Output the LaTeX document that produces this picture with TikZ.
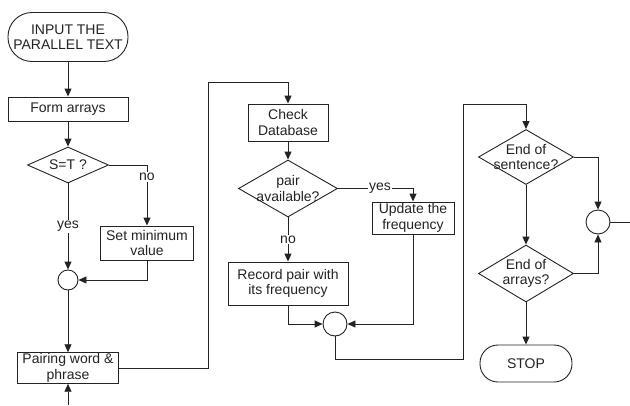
\documentclass[tikz,border=0pt]{standalone}
\usepackage{fontspec}
\setmainfont{Liberation Sans}
\usepackage{tikz}
\usetikzlibrary{positioning,arrows.meta,shapes.geometric}
\definecolor{linecol}{RGB}{35,35,35}

\begin{document}
\begin{tikzpicture}[x=1pt,y=-1pt,
  every node/.style={font=\fontsize{14}{15.5}\selectfont,text=linecol},
  pbox/.style={rectangle,draw=linecol,line width=0.9pt,align=center,inner sep=1pt},
  term/.style={rectangle,draw=linecol,line width=0.9pt,align=center,inner sep=0pt},
  dec/.style={diamond,draw=linecol,line width=0.9pt,inner sep=0pt},
  joint/.style={circle,draw=linecol,line width=0.9pt,inner sep=0pt},
  lbl/.style={fill=white,inner sep=1pt},
  arr/.style={-{Triangle[length=8pt,width=7pt]},line width=0.9pt,linecol},
  ln/.style={line width=0.9pt,linecol}
]
\useasboundingbox (0,0) rectangle (630,405);
\node[term,rounded corners=24pt,minimum width=120pt,minimum height=49pt] (start) at (68,37)
  {INPUT THE\\PARALLEL TEXT};
\node[pbox,minimum width=120pt,minimum height=24pt] (form) at (68,109) {Form arrays};
\node[dec,minimum width=81pt,minimum height=36pt,label={center:S=T ?}] (st) at (68,165) {};
\node[pbox,minimum width=93pt,minimum height=34pt] (setmin) at (147,243)
  {Set minimum\\value};
\node[joint,minimum size=20pt] (c1) at (68,280) {};
\node[pbox,minimum width=101pt,minimum height=30pt] (pair) at (68,368)
  {Pairing word \&\\phrase};
\coordinate (inbot) at (68,405);
\coordinate (loopA) at (208,82);
\node[pbox,minimum width=80pt,minimum height=37pt] (check) at (288,122.5)
  {Check\\Database};
\node[dec,minimum width=99pt,minimum height=57pt,
  label={[align=center]center:{pair\\available?}}] (pa) at (288,188.5) {};
\node[pbox,minimum width=82pt,minimum height=32pt] (update) at (413,218)
  {Update the\\frequency};
\node[pbox,minimum width=120pt,minimum height=43pt] (record) at (288,283.5)
  {Record pair with\\its frequency};
\node[joint,minimum size=24pt] (c2) at (335,324) {};
\coordinate (loopB) at (463,104);
\node[dec,minimum width=95pt,minimum height=55pt,
  label={[align=center]center:{End of\\sentence?}}] (es) at (526,157) {};
\node[dec,minimum width=95pt,minimum height=57pt,
  label={[align=center]center:{End of\\arrays?}}] (ea) at (526,273.5) {};
\node[joint,minimum size=24pt] (c3) at (598,222) {};
\coordinate (outr) at (630,222);
\node[term,rounded corners=18pt,minimum width=92pt,minimum height=37pt] (stop) at (526,363.5)
  {STOP};
\draw[arr] (start) -- (form);
\draw[arr] (form) -- (st);
\draw[arr] (st.east) -| node[lbl,pos=0.6] {no} (setmin.north);
\draw[arr] (st.south) -- node[lbl,pos=0.5] {yes} (c1.north);
\draw[arr] (setmin.south) |- (c1.east);
\draw[arr] (c1) -- (pair);
\draw[arr] (inbot) -- (pair.south);
\draw[arr] (pair.east) -| (loopA) -| (check.north);
\draw[arr] (check) -- (pa);
\draw[arr] (pa.east) -| node[lbl,pos=0.28] {yes} (update.north);
\draw[arr] (pa.south) -- node[lbl] {no} (record.north);
\draw[arr] (record.south) |- (c2.west);
\draw[arr] (update.south) |- (c2.east);
\draw[arr] (c2.south) -- ++(0,23) -| (loopB) -| (es.north);
\draw[arr] (es.east) -| (c3.north);
\draw[arr] (es) -- (ea);
\draw[arr] (ea.east) -| (c3.south);
\draw[arr] (ea) -- (stop);
\draw[ln] (c3.east) -- (outr);
\end{tikzpicture}
\end{document}
